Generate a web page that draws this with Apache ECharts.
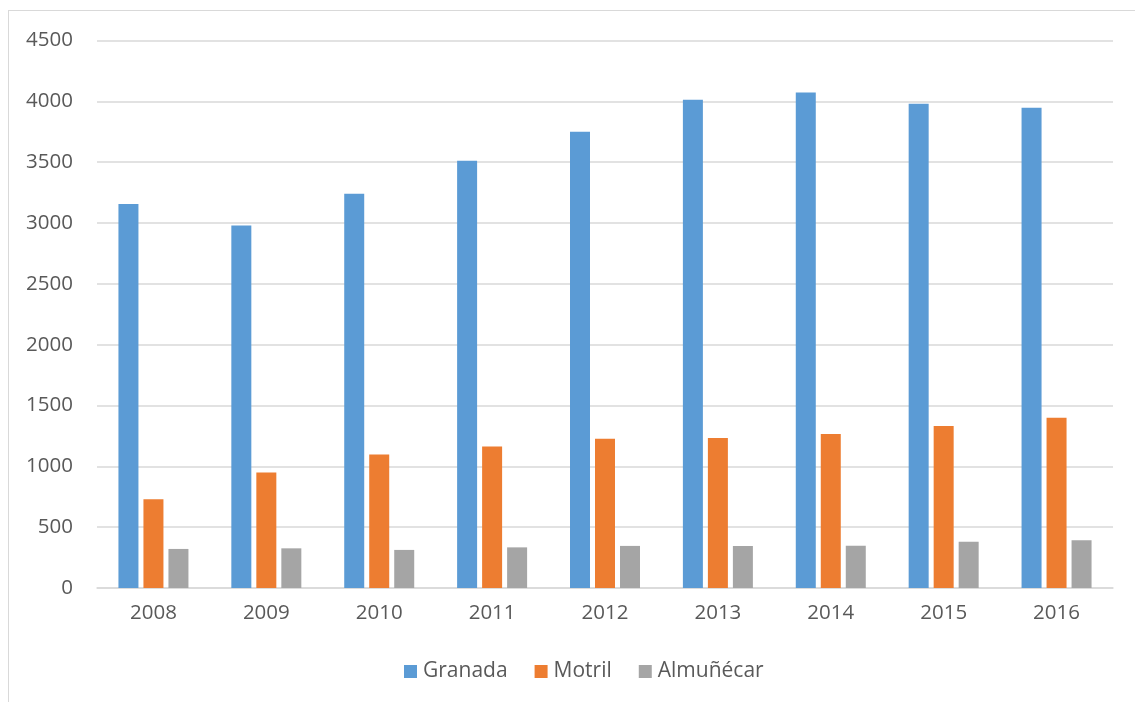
<!DOCTYPE html>
<html>
<head>
<meta charset="utf-8">
<script src="https://cdn.jsdelivr.net/npm/echarts@6/dist/echarts.min.js"></script>
<style>
html,body{margin:0;padding:0;background:#fff;}
#frame{position:absolute;left:8px;top:10px;width:1140px;height:700px;border:1px solid #d9d9d9;box-sizing:border-box;}
#chart{position:absolute;left:0;top:0;width:1135px;height:702px;}
</style>
</head>
<body>
<div id="frame"></div>
<div id="chart"></div>
<script>
const years = ['2008','2009','2010','2011','2012','2013','2014','2015','2016'];
const granada = [3157, 2980, 3240, 3512, 3750, 4012, 4072, 3980, 3947];
const motril = [730, 950, 1098, 1164, 1227, 1232, 1265, 1331, 1400];
const almunecar = [321, 326, 313, 334, 346, 346, 347, 380, 393];
const seriesNames = ['Granada', 'Motril', 'Almuñécar'];
const colors = ['#5B9BD5', '#ED7D31', '#A5A5A5'];

const font = '"Open Sans", "Liberation Sans", sans-serif';
const chart = echarts.init(document.getElementById('chart'), null, {renderer: 'canvas'});
const dataSets = [granada, motril, almunecar];
chart.setOption({
  animation: false,
  backgroundColor: 'transparent',
  textStyle: {fontFamily: font},
  grid: {left: 97, right: 22, top: 40.5, bottom: 114, containLabel: false},
  legend: {
    bottom: 15, left: 399,
    itemWidth: 13, itemHeight: 13, itemGap: 27,
    icon: 'rect',
    textStyle: {color: '#595959', fontSize: 21, fontFamily: font, padding: [0,0,0,1]},
    data: seriesNames
  },
  xAxis: {
    type: 'category', data: years,
    axisLine: {lineStyle: {color: '#d9d9d9', width: 1.5}},
    axisTick: {show: false},
    axisLabel: {color: '#595959', fontSize: 20.5, margin: 15, fontFamily: font}
  },
  yAxis: {
    type: 'value', min: 0, max: 4500, interval: 500,
    axisLine: {show: false}, axisTick: {show: false},
    splitLine: {lineStyle: {color: '#d9d9d9', width: 1.5}},
    axisLabel: {color: '#595959', fontSize: 20.5, margin: 24, fontFamily: font,
      formatter: v => String(v)}
  },
  series: seriesNames.map((n, i) => ({
    name: n, type: 'bar', data: dataSets[i],
    barWidth: 20, barGap: '25%',
    itemStyle: {color: colors[i]}
  }))
});
</script>
</body>
</html>
